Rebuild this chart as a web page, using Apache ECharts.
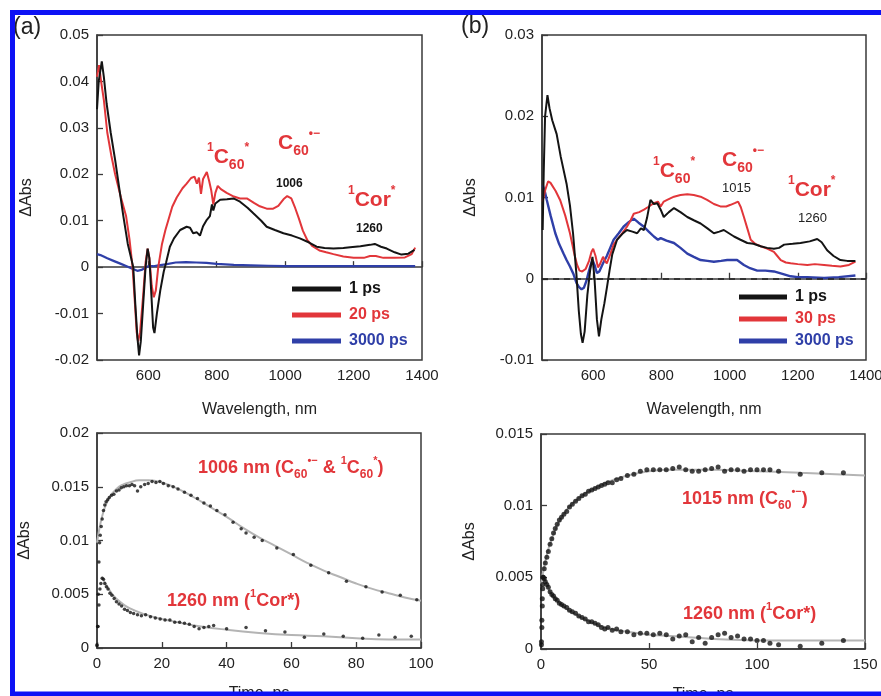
<!DOCTYPE html>
<html>
<head>
<meta charset="utf-8">
<script src="https://cdn.jsdelivr.net/npm/echarts@6/dist/echarts.min.js"></script>
<style>
  html, body { margin: 0; padding: 0; background: #fff; }
  #main { width: 881px; height: 696px; }
</style>
</head>
<body>
<div id="main"></div>
<script>
// (a) spectra, [wavelength nm, dAbs]
var specA_1ps = [[450,0.034],[455,0.040],[464,0.0443],[470,0.041],[478,0.0353],[490,0.029],[503,0.0231],[515,0.017],[527,0.011],[540,0.005],[556,0.000],[562,-0.008],[568,-0.015],[573,-0.019],[578,-0.016],[585,-0.008],[592,0.000],[598,0.004],[603,0.002],[609,-0.006],[614,-0.013],[618,-0.0142],[625,-0.010],[635,-0.005],[645,-0.001],[652,0.001],[663,0.0044],[675,0.0062],[693,0.008],[712,0.0087],[722,0.0085],[731,0.0073],[742,0.0075],[751,0.0068],[760,0.0088],[771,0.0102],[780,0.011],[786,0.0135],[790,0.0122],[796,0.0137],[810,0.0145],[830,0.0146],[849,0.0148],[868,0.0141],[890,0.0128],[907,0.0116],[930,0.0100],[946,0.0087],[970,0.0080],[995,0.0073],[1020,0.0068],[1043,0.0062],[1070,0.0053],[1092,0.0044],[1115,0.0041],[1141,0.0040],[1170,0.0041],[1190,0.0043],[1220,0.0045],[1248,0.0048],[1262,0.0050],[1280,0.0044],[1297,0.0040],[1320,0.0032],[1340,0.0027],[1360,0.0029],[1378,0.0037]];
var specA_20ps = [[450,0.041],[456,0.0435],[462,0.040],[470,0.036],[480,0.029],[492,0.024],[503,0.020],[520,0.015],[535,0.011],[545,0.006],[554,0.000],[561,-0.008],[566,-0.014],[570,-0.016],[576,-0.014],[585,-0.006],[592,0.001],[598,0.004],[603,0.002],[610,-0.004],[616,-0.0065],[622,-0.005],[629,0.000],[640,0.005],[650,0.008],[658,0.010],[670,0.013],[683,0.015],[700,0.017],[712,0.018],[725,0.0192],[735,0.0195],[742,0.018],[748,0.0193],[754,0.0158],[760,0.019],[771,0.0205],[778,0.0185],[784,0.0165],[790,0.0135],[796,0.016],[803,0.0175],[812,0.0168],[829,0.016],[850,0.0152],[868,0.0148],[888,0.0148],[910,0.0138],[926,0.0131],[946,0.0126],[965,0.0126],[980,0.0132],[995,0.0146],[1006,0.0153],[1018,0.0148],[1028,0.013],[1040,0.0105],[1052,0.0078],[1065,0.0058],[1080,0.0045],[1100,0.0036],[1120,0.0032],[1141,0.0028],[1170,0.0023],[1200,0.0020],[1230,0.0020],[1248,0.0024],[1265,0.0024],[1287,0.0020],[1320,0.0020],[1350,0.0021],[1370,0.0028],[1380,0.0042]];
var specA_3000ps = [[450,0.0028],[460,0.0026],[480,0.0019],[500,0.0013],[520,0.0007],[540,0.0001],[555,-0.0004],[568,-0.0008],[580,-0.0006],[590,-0.0002],[600,0.0002],[615,0.0002],[630,0.0004],[650,0.0006],[680,0.0010],[710,0.0011],[740,0.0010],[770,0.0009],[800,0.0007],[850,0.0005],[900,0.0004],[950,0.0003],[1000,0.0002],[1100,0.0002],[1200,0.0002],[1300,0.0002],[1380,0.0002]];

// (b) spectra
var specB_1ps = [[452,0.006],[455,0.013],[459,0.020],[466,0.0226],[472,0.021],[480,0.0195],[493,0.0178],[505,0.015],[522,0.0117],[532,0.009],[541,0.0056],[551,0.0005],[558,-0.004],[564,-0.0068],[569,-0.0079],[575,-0.0065],[583,-0.002],[591,0.001],[598,0.0027],[604,0.000],[611,-0.005],[617,-0.0071],[624,-0.005],[633,-0.003],[641,-0.0009],[648,0.001],[656,0.003],[670,0.0048],[685,0.0055],[699,0.006],[715,0.0058],[729,0.0056],[740,0.0062],[749,0.006],[758,0.0075],[768,0.0097],[778,0.0092],[788,0.0093],[798,0.0085],[807,0.0076],[822,0.0082],[837,0.0087],[856,0.0082],[876,0.0076],[895,0.0072],[915,0.0068],[935,0.0062],[954,0.0056],[970,0.0058],[983,0.006],[998,0.0056],[1013,0.0052],[1032,0.0048],[1052,0.0044],[1070,0.0043],[1091,0.004],[1110,0.0038],[1130,0.0037],[1145,0.0038],[1160,0.0042],[1185,0.0043],[1208,0.0044],[1235,0.0046],[1257,0.0049],[1270,0.0045],[1286,0.0035],[1305,0.0028],[1325,0.0023],[1345,0.0022],[1369,0.0022]];
var specB_30ps = [[452,0.0095],[460,0.011],[468,0.012],[475,0.0118],[490,0.0108],[503,0.0097],[518,0.0078],[532,0.0056],[545,0.003],[553,0.0017],[560,0.001],[568,0.0009],[578,0.0012],[588,0.0022],[595,0.0033],[600,0.0037],[607,0.0028],[614,0.0014],[620,0.0018],[629,0.0027],[635,0.0022],[640,0.0019],[650,0.003],[660,0.0042],[670,0.0048],[685,0.0056],[699,0.0064],[710,0.0072],[719,0.008],[735,0.0082],[749,0.0085],[760,0.0088],[778,0.0093],[790,0.0095],[798,0.0089],[807,0.0095],[817,0.0097],[837,0.0101],[856,0.0103],[876,0.0104],[895,0.0103],[915,0.0101],[934,0.0097],[954,0.0092],[973,0.0089],[990,0.0089],[1003,0.0091],[1015,0.0093],[1025,0.0095],[1033,0.0088],[1042,0.0076],[1052,0.0062],[1062,0.0048],[1075,0.0043],[1091,0.004],[1110,0.0037],[1130,0.0033],[1140,0.0028],[1150,0.0023],[1165,0.002],[1179,0.0019],[1200,0.0018],[1228,0.0017],[1250,0.0018],[1277,0.0017],[1300,0.0016],[1325,0.0015],[1350,0.0017],[1369,0.0021]];
var specB_3000ps = [[452,0.0115],[458,0.0108],[464,0.0097],[475,0.0078],[489,0.0056],[500,0.0043],[513,0.0031],[522,0.0023],[532,0.0015],[542,0.0006],[551,-0.0005],[558,-0.001],[566,-0.0013],[573,-0.0011],[580,-0.0003],[586,0.0007],[592,0.0016],[598,0.0023],[604,0.0017],[611,0.0007],[618,0.0009],[629,0.0019],[640,0.0028],[650,0.0038],[660,0.0048],[675,0.0056],[689,0.0064],[705,0.007],[719,0.0074],[733,0.0069],[749,0.0064],[763,0.0058],[778,0.0052],[790,0.0048],[798,0.005],[815,0.0047],[837,0.0044],[856,0.0038],[876,0.0031],[895,0.0027],[915,0.0023],[935,0.0022],[954,0.0021],[975,0.0022],[993,0.0023],[1022,0.0023],[1042,0.0017],[1060,0.0013],[1081,0.001],[1105,0.001],[1130,0.0009],[1155,0.0006],[1179,0.0003],[1200,0.0002],[1228,0.0002],[1277,0.0001],[1320,0.0002],[1369,0.0004]];

// kinetics, [time ps, dAbs]
var kinA_1006 = [[0,0.0002],[0.2,0.002],[0.4,0.005],[0.6,0.008],[0.8,0.0098],[1.0,0.0105],[1.3,0.0113],[1.6,0.012],[2.0,0.0128],[2.4,0.0133],[2.8,0.0136],[3.3,0.0138],[3.8,0.014],[4.5,0.0142],[5.2,0.0143],[6,0.0146],[6.8,0.0147],[7.5,0.0149],[8.3,0.015],[9.1,0.0151],[10,0.0151],[10.8,0.0152],[11.6,0.0151],[12.5,0.0146],[13.5,0.015],[14.7,0.0152],[15.8,0.0153],[17,0.0155],[18.2,0.0154],[19.4,0.0155],[20.5,0.0153],[22,0.0151],[23.5,0.015],[25,0.0148],[27,0.0145],[29,0.0142],[31,0.0139],[33,0.0135],[35,0.0132],[37,0.0128],[39.5,0.0124],[42,0.0117],[44.5,0.0111],[46,0.0107],[48.5,0.0103],[51,0.0100],[55.5,0.0093],[60.6,0.0087],[66,0.0077],[71.5,0.0070],[77,0.0062],[83,0.0057],[88,0.0052],[93.6,0.0049],[98.7,0.0045]];
var fitA_1006 = [[0,0.0098],[1,0.0115],[2,0.0127],[3,0.0135],[4,0.0141],[6,0.0148],[8,0.0152],[10,0.0154],[13,0.0156],[16,0.0156],[20,0.0154],[25,0.0148],[30,0.0140],[35,0.0131],[40,0.0122],[45,0.0112],[50,0.0103],[55,0.0095],[60,0.0087],[65,0.0079],[70,0.0072],[75,0.0066],[80,0.0060],[85,0.0055],[90,0.0051],[95,0.0047],[100,0.0044]];
var kinA_1260 = [[0,0.0003],[0.3,0.002],[0.6,0.004],[0.9,0.0055],[1.2,0.006],[1.6,0.0065],[2,0.0064],[2.4,0.006],[2.9,0.0057],[3.4,0.0055],[4,0.0051],[4.6,0.0049],[5.3,0.0046],[6,0.0043],[6.8,0.0041],[7.6,0.0039],[8.5,0.0036],[9.4,0.0035],[10.3,0.0033],[11.3,0.0032],[12.5,0.0031],[13.7,0.003],[15,0.0031],[16.5,0.0029],[18,0.0028],[19.5,0.0027],[21,0.0026],[22.5,0.0026],[24,0.0024],[25.5,0.0024],[27,0.0023],[28.5,0.0022],[30,0.002],[31.5,0.0018],[33,0.0019],[34.5,0.002],[36,0.0021],[40,0.0018],[46,0.0019],[52,0.0016],[58,0.0015],[64,0.001],[70,0.0013],[76,0.0011],[82,0.0009],[87,0.0012],[92,0.001],[97,0.0011]];
var fitA_1260 = [[1.5,0.0066],[3,0.0058],[5,0.0049],[7.5,0.0042],[10,0.0037],[15,0.0031],[20,0.0027],[25,0.0024],[30,0.0021],[40,0.0017],[50,0.0014],[60,0.0012],[70,0.0011],[80,0.0009],[90,0.0008],[100,0.0008]];

var kinB_1015 = [[0.2,0.0003],[0.4,0.0015],[0.6,0.003],[0.8,0.0042],[1.0,0.005],[1.5,0.0056],[2,0.006],[2.7,0.0064],[3.4,0.0068],[4.2,0.0073],[5,0.0077],[5.8,0.0081],[6.6,0.0084],[7.5,0.0087],[8.5,0.009],[9.5,0.0092],[10.6,0.0094],[11.9,0.0096],[13.2,0.0099],[14.5,0.0101],[16,0.0103],[17.5,0.0105],[19,0.0107],[20.5,0.0108],[22,0.011],[23.5,0.0111],[25,0.0112],[26.5,0.0113],[28,0.0114],[29.5,0.0115],[31,0.0116],[33,0.0116],[35,0.0118],[37,0.0119],[40,0.0121],[43,0.0122],[46,0.0124],[49,0.0125],[52,0.0125],[55,0.0125],[58,0.0125],[61,0.0126],[64,0.0127],[67,0.0125],[70,0.0124],[73,0.0124],[76,0.0125],[79,0.0126],[82,0.0127],[85,0.0124],[88,0.0125],[91,0.0125],[94,0.0124],[97,0.0125],[100,0.0125],[103,0.0125],[106,0.0125],[110,0.0124],[120,0.0122],[130,0.0123],[140,0.0123]];
var fitB_1015 = [[0,0.0045],[2,0.0061],[5,0.0077],[10,0.0093],[15,0.0102],[20,0.0108],[30,0.0116],[40,0.0121],[50,0.0124],[60,0.0125],[80,0.0125],[100,0.0124],[120,0.0123],[150,0.0121]];
var kinB_1260 = [[0.2,0.0005],[0.4,0.002],[0.6,0.0035],[0.8,0.0045],[1,0.005],[1.5,0.0049],[2,0.0047],[2.7,0.0045],[3.4,0.0043],[4.2,0.004],[5,0.0038],[5.8,0.0037],[6.6,0.0035],[7.5,0.0034],[8.5,0.0032],[9.5,0.0031],[10.6,0.003],[11.9,0.0029],[13.2,0.0027],[14.5,0.0026],[16,0.0025],[17.5,0.0023],[19,0.0022],[20.5,0.0021],[22,0.0019],[23.5,0.0019],[25,0.0018],[26.5,0.0017],[28,0.0015],[29.5,0.0014],[31,0.0015],[33,0.0013],[35,0.0014],[37,0.0012],[40,0.0012],[43,0.001],[46,0.0011],[49,0.0011],[52,0.001],[55,0.0011],[58,0.001],[61,0.0007],[64,0.0009],[67,0.001],[70,0.0005],[73,0.0008],[76,0.0004],[79,0.0008],[82,0.001],[85,0.0011],[88,0.0008],[91,0.0009],[94,0.0007],[97,0.0007],[100,0.0006],[103,0.0006],[106,0.0004],[110,0.0003],[120,0.0002],[130,0.0004],[140,0.0006]];
var fitB_1260 = [[1,0.0051],[3,0.0044],[5,0.0038],[10,0.003],[15,0.0025],[20,0.0021],[30,0.0015],[40,0.0012],[50,0.001],[60,0.0009],[80,0.0007],[100,0.0006],[150,0.0006]];

var wlTicks = [600, 800, 1000, 1200, 1400];

var FONT = '"Liberation Sans", Arial, Helvetica, sans-serif';
var RED = '#e2363a', BLACK = '#141414', BLUE = '#2f3fa8', GRAY = '#b4b4b4';

var chart = echarts.init(document.getElementById('main'));

function fmt(v) { return String(+(+v).toFixed(4)); }

function xAx(idx, min, max, interval, name, gap, custom) {
  var ax = {
    type: 'value', gridIndex: idx, min: min, max: max,
    name: name, nameLocation: 'middle', nameGap: gap,
    nameTextStyle: { fontFamily: FONT, fontSize: 16, color: '#222' },
    axisLine: { lineStyle: { color: '#3a3a3a', width: 1.5 } },
    axisTick: { inside: true, length: 6, lineStyle: { color: '#3a3a3a', width: 1.3 } },
    axisLabel: { fontFamily: FONT, fontSize: 15, color: '#222', margin: 8, showMinLabel: true, showMaxLabel: true, formatter: fmt },
    splitLine: { show: false }
  };
  if (custom) {
    ax.axisTick.customValues = custom;
    ax.axisLabel.customValues = custom;
  } else {
    ax.interval = interval;
  }
  return ax;
}
function yAx(idx, min, max, interval, gap) {
  return {
    type: 'value', gridIndex: idx, min: min, max: max, interval: interval,
    name: 'ΔAbs', nameLocation: 'middle', nameGap: gap,
    nameTextStyle: { fontFamily: FONT, fontSize: 16, color: '#222' },
    axisLine: { lineStyle: { color: '#3a3a3a', width: 1.5 } },
    axisTick: { inside: true, length: 6, lineStyle: { color: '#3a3a3a', width: 1.3 } },
    axisLabel: { fontFamily: FONT, fontSize: 15, color: '#222', margin: 8, formatter: fmt },
    splitLine: { show: false }
  };
}
function lineS(name, xi, data, color, width, z) {
  return { type: 'line', name: name, xAxisIndex: xi, yAxisIndex: xi, data: data,
    showSymbol: false, lineStyle: { color: color, width: width }, itemStyle: { color: color },
    z: z, animation: false };
}
function dots(xi, data, size) {
  return { type: 'scatter', xAxisIndex: xi, yAxisIndex: xi, data: data, symbolSize: size,
    itemStyle: { color: BLACK }, z: 4, animation: false };
}
function fitS(xi, data) {
  return { type: 'line', xAxisIndex: xi, yAxisIndex: xi, data: data, smooth: true,
    showSymbol: false, lineStyle: { color: GRAY, width: 2 }, z: 3, animation: false };
}

// rich text for annotations
function rich(size, subSize, supSize, lh, color, weight) {
  return {
    m: { fontFamily: FONT, fontSize: size, fontWeight: weight, fill: color, lineHeight: lh, verticalAlign: 'middle' },
    sub: { fontFamily: FONT, fontSize: subSize, fontWeight: weight, fill: color, lineHeight: subSize + 1, verticalAlign: 'bottom' },
    sup: { fontFamily: FONT, fontSize: supSize, fontWeight: weight, fill: color, lineHeight: supSize + 1, verticalAlign: 'top' }
  };
}
var richBig = rich(21, 14, 12, 30, RED, 'bold');
var richMid = rich(18, 12, 11, 26, RED, 'bold');
function note(left, top, text, r) {
  return { type: 'text', left: left, top: top, z: 50, style: { text: text, rich: r } };
}
function plain(left, top, text, size, weight, color) {
  return { type: 'text', left: left, top: top, z: 50,
    style: { text: text, fill: color, font: weight + ' ' + size + 'px ' + FONT } };
}
var C60star = '{sup|1}{m|C}{sub|60}{sup|*}';
var C60anion = '{m|C}{sub|60}{sup|•−}';
var Corstar = '{sup|1}{m|Cor}{sup|*}';

function gridBox(l, t, w, h) {
  return { left: l, top: t, width: w, height: h, show: true, borderColor: '#3a3a3a', borderWidth: 1.5,
    containLabel: false, outerBoundsMode: 'none' };
}

var option = {
  backgroundColor: '#fff',
  animation: false,
  grid: [
    gridBox(97, 35, 325, 325),
    gridBox(542, 35, 324, 325),
    gridBox(97, 433, 324, 215),
    gridBox(541, 434, 324, 215)
  ],
  xAxis: [
    xAx(0, 450, 1400, null, 'Wavelength, nm', 42, wlTicks),
    xAx(1, 450, 1400, null, 'Wavelength, nm', 42, wlTicks),
    xAx(2, 0, 100, 20, 'Time, ps', 38),
    xAx(3, 0, 150, 50, 'Time, ps', 38)
  ],
  yAxis: [
    yAx(0, -0.02, 0.05, 0.01, 62),
    yAx(1, -0.01, 0.03, 0.01, 63),
    yAx(2, 0, 0.02, 0.005, 64),
    yAx(3, 0, 0.015, 0.005, 63)
  ],
  legend: [
    { orient: 'vertical', left: 287, top: 276, itemWidth: 49, itemHeight: 5, itemGap: 10, icon: 'rect',
      textStyle: { fontFamily: FONT, fontSize: 16, fontWeight: 'bold', padding: [0, 0, 0, 3] },
      selectedMode: false,
      data: [ { name: '1 ps', textStyle: { color: BLACK } }, { name: '20 ps', textStyle: { color: RED } }, { name: '3000 ps', textStyle: { color: BLUE } } ] },
    { orient: 'vertical', left: 734, top: 284, itemWidth: 48, itemHeight: 5, itemGap: 6, icon: 'rect',
      textStyle: { fontFamily: FONT, fontSize: 16, fontWeight: 'bold', padding: [0, 0, 0, 3] },
      selectedMode: false,
      data: [ { name: '1 ps', textStyle: { color: BLACK } }, { name: '30 ps', textStyle: { color: RED } }, { name: '3000 ps', textStyle: { color: BLUE } } ] }
  ],
  series: [
    lineS('3000 ps', 0, specA_3000ps, BLUE, 2.2, 2),
    lineS('20 ps', 0, specA_20ps, RED, 2, 3),
    lineS('1 ps', 0, specA_1ps, BLACK, 2, 4),
    (function () {
      var s = lineS('3000 ps', 1, specB_3000ps, BLUE, 2.4, 2);
      s.markLine = { silent: true, symbol: 'none', label: { show: false },
        lineStyle: { color: '#222', type: [6, 5], width: 1.6 }, data: [{ yAxis: 0 }] };
      return s;
    })(),
    lineS('30 ps', 1, specB_30ps, RED, 2, 3),
    lineS('1 ps', 1, specB_1ps, BLACK, 2, 4),
    fitS(2, fitA_1006), fitS(2, fitA_1260),
    dots(2, kinA_1006, 3.5), dots(2, kinA_1260, 3.5),
    fitS(3, fitB_1015), fitS(3, fitB_1260),
    dots(3, kinB_1015, 5), dots(3, kinB_1260, 5)
  ],
  graphic: [
    plain(13, 16, '(a)', 23, 'normal', '#222'),
    plain(461, 15, '(b)', 23, 'normal', '#222'),
    note(207, 142, C60star, richBig),
    note(278, 128, C60anion, richBig),
    plain(276, 178, '1006', 12, 'bold', BLACK),
    note(348, 185, Corstar, richBig),
    plain(356, 223, '1260', 12, 'bold', BLACK),
    note(653, 156, C60star, richBig),
    note(722, 145, C60anion, richBig),
    plain(722, 182, '1015', 13, 'normal', '#222'),
    note(788, 175, Corstar, richBig),
    plain(798, 212, '1260', 13, 'normal', '#222'),
    note(198, 455, '{m|1006 nm (C}{sub|60}{sup|•−}{m| & }{sup|1}{m|C}{sub|60}{sup|*}{m|)}', richMid),
    note(167, 588, '{m|1260 nm (}{sup|1}{m|Cor*)}', richMid),
    note(682, 486, '{m|1015 nm (C}{sub|60}{sup|•−}{m|)}', richMid),
    note(683, 601, '{m|1260 nm (}{sup|1}{m|Cor*)}', richMid),
    { type: 'rect', z: 100, silent: true, shape: { x: 12.5, y: 12.5, width: 880, height: 681.5 },
      style: { fill: 'none', stroke: '#0d12f5', lineWidth: 5 } }
  ]
};
chart.setOption(option);
</script>
</body>
</html>
